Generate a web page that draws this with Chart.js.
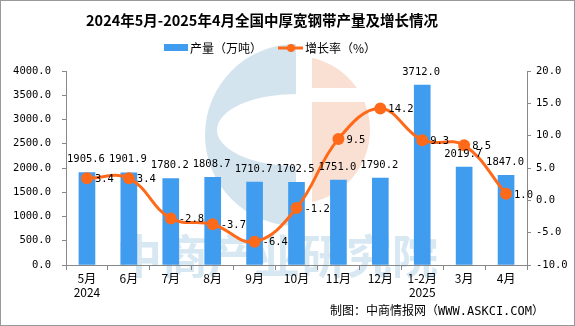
<!DOCTYPE html>
<html><head><meta charset="utf-8">
<script src="https://cdn.jsdelivr.net/npm/chart.js@4/dist/chart.umd.min.js"></script>
<style>
html,body{margin:0;padding:0;background:#fff;}
</style></head>
<body><canvas id="c" width="575" height="326"></canvas>
<script>
const categories = [["5月","2024"],"6月","7月","8月","9月","10月","11月","12月",["1-2月","2025"],"3月","4月"];
const output = [1905.6,1901.9,1780.2,1808.7,1710.7,1702.5,1751.0,1790.2,3712.0,2019.7,1847.0];
const growth = [3.4,3.4,-2.8,-3.7,-6.4,-1.2,9.5,14.2,9.3,8.5,1.0];
const leftTicks = [0,500,1000,1500,2000,2500,3000,3500,4000];
const rightTicks = [-10,-5,0,5,10,15,20];
const titleText = '2024年5月-2025年4月全国中厚宽钢带产量及增长情况';
const seriesNames = ['产量（万吨）','增长率（%）'];
const footerText = '制图：中商情报网（WWW.ASKCI.COM）';

const CJK = '"Noto Sans CJK SC", sans-serif';
const NUM = '"DejaVu Sans Mono", monospace';
const BAR = '#3f9cef';
const LINE = '#ff6a1a';

const decor = {
  id:'decor',
  beforeDraw(chart){
    const ctx=chart.ctx;ctx.save();
    ctx.fillStyle='#fff';ctx.fillRect(0,0,575,326);
    ctx.save();
    ctx.beginPath();ctx.rect(0,0,296,326);ctx.clip();
    ctx.fillStyle='#d3e4ef';
    ctx.beginPath();ctx.arc(296,135,91,0,Math.PI*2);ctx.fill();
    ctx.fillStyle='#fff';
    ctx.beginPath();ctx.ellipse(296,130,79,36,0,0,Math.PI*2);ctx.fill();
    ctx.restore();
    ctx.save();
    ctx.beginPath();ctx.rect(312,0,100,88);ctx.rect(312,102,100,200);ctx.clip();
    ctx.fillStyle='#f9e0d3';
    ctx.beginPath();ctx.arc(296,130,74,0,Math.PI*2);ctx.fill();
    ctx.restore();
    ctx.font='bold 46px '+CJK;ctx.fillStyle='#d8e8f3';
    ctx.textBaseline='middle';ctx.textAlign='left';
    ctx.fillText('中商产业研究院',116,256);
    ctx.restore();
  },
  afterDraw(chart){
    const ctx=chart.ctx;ctx.save();
    ctx.strokeStyle='#999';ctx.lineWidth=1;ctx.strokeRect(0.5,0.5,574,325);
    ctx.fillStyle='#000';ctx.textBaseline='middle';
    ctx.font='bold 14.5px '+CJK;ctx.textAlign='center';
    ctx.fillText(titleText,262,20);
    ctx.font='12px '+CJK;ctx.textAlign='left';
    ctx.fillStyle=BAR;ctx.fillRect(164,44,24,7);
    ctx.fillStyle='#000';ctx.fillText(seriesNames[0],190,48);
    ctx.strokeStyle=LINE;ctx.lineWidth=3;ctx.beginPath();ctx.moveTo(278,48);ctx.lineTo(303,48);ctx.stroke();
    ctx.fillStyle=LINE;ctx.beginPath();ctx.arc(291,48,4,0,Math.PI*2);ctx.fill();
    ctx.fillStyle='#000';ctx.fillText(seriesNames[1],305,48);
    ctx.font='12px "DejaVu Sans Mono", "Noto Sans CJK SC", monospace';ctx.textAlign='right';
    ctx.fillText(footerText,544,312);
    ctx.restore();
  }
};

const labels = {
  id:'lbl',
  afterDatasetsDraw(chart){
    const ctx=chart.ctx;ctx.save();
    ctx.font='10.5px '+NUM;ctx.fillStyle='#000';
    const m0=chart.getDatasetMeta(0), m1=chart.getDatasetMeta(1);
    ctx.textAlign='center';ctx.textBaseline='middle';
    m0.data.forEach((b,i)=>{ctx.fillText(output[i].toFixed(1),b.x-1,b.y-13);});
    ctx.textAlign='left';
    m1.data.forEach((p,i)=>{ctx.fillText(growth[i].toFixed(1),p.x+8,p.y+1);});
    ctx.restore();
  }
};

new Chart(document.getElementById('c'),{
  data:{
    labels:categories,
    datasets:[
      {type:'bar',label:seriesNames[0],data:output,backgroundColor:BAR,yAxisID:'y',barThickness:16,order:2},
      {type:'line',label:seriesNames[1],data:growth,borderColor:LINE,backgroundColor:LINE,borderWidth:3,
       pointRadius:4.5,pointHoverRadius:4.5,tension:0.4,yAxisID:'y1',order:1}
    ]
  },
  options:{
    responsive:false,animation:false,
    layout:{padding:{left:0,right:0,top:71,bottom:0}},
    plugins:{title:{display:false},legend:{display:false},tooltip:{enabled:false}},
    scales:{
      x:{afterFit(s){s.height=61;},
         grid:{offset:true,drawOnChartArea:false,drawTicks:true,tickLength:5,color:'#888'},
         border:{color:'#888'},
         ticks:{font:{family:CJK,size:12},color:'#000',maxRotation:0,autoSkip:false,padding:1}},
      y:{position:'left',min:0,max:4000,
         afterBuildTicks(s){s.ticks=leftTicks.map(v=>({value:v}));},
         afterFit(s){s.width=66;},
         grid:{drawOnChartArea:false,drawTicks:true,tickLength:4,color:'#888'},border:{color:'#888'},
         ticks:{font:{family:NUM,size:10.5},color:'#000',callback:v=>Number(v).toFixed(1),padding:11}},
      y1:{position:'right',min:-10,max:20,
         afterBuildTicks(s){s.ticks=rightTicks.map(v=>({value:v}));},
         afterFit(s){s.width=48;},
         grid:{drawOnChartArea:false,drawTicks:true,tickLength:4,color:'#888'},border:{color:'#888'},
         ticks:{font:{family:NUM,size:10.5},color:'#000',callback:v=>Number(v).toFixed(1),padding:5}}
    }
  },
  plugins:[decor,labels]
});
</script></body></html>
